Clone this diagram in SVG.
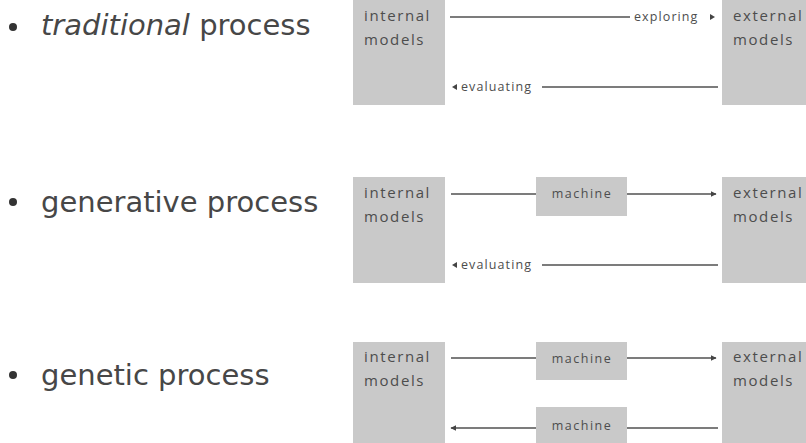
<svg xmlns="http://www.w3.org/2000/svg" width="806" height="443" viewBox="0 0 806 443">
  <style>
    .title { font-family: "DejaVu Sans", Verdana, sans-serif; font-size: 29px; fill: #474747; }
    .box { fill: #c9c9c9; }
    .lbl { font-family: "Open Sans", "DejaVu Sans", sans-serif; font-size: 15px; letter-spacing: 1.6px; fill: #4d4d4d; }
    .mlbl { font-family: "Open Sans", "DejaVu Sans", sans-serif; font-size: 12.5px; letter-spacing: 1.5px; fill: #4d4d4d; text-anchor: middle; }
    .elbl { font-family: "Open Sans", "DejaVu Sans", sans-serif; font-size: 12.5px; letter-spacing: 1.1px; fill: #4d4d4d; }
    .wire { stroke: #505050; stroke-width: 1.5; fill: none; }
    .bullet { fill: #333; }
  </style>
  <defs>
    <marker id="tip" viewBox="0 0 10 10" refX="9" refY="5" markerWidth="4" markerHeight="4" orient="auto">
      <path d="M0,0 L10,5 L0,10 z" fill="#444"/>
    </marker>
  </defs>

  <rect width="806" height="443" fill="#ffffff"/>

  <!-- process titles -->
  <g id="titles">
    <circle class="bullet" cx="13" cy="27" r="4"/>
    <text class="title" x="41" y="35"><tspan font-style="italic">traditional</tspan> process</text>
    <circle class="bullet" cx="13" cy="202" r="4"/>
    <text class="title" x="41" y="212">generative process</text>
    <circle class="bullet" cx="13" cy="375" r="4"/>
    <text class="title" x="41" y="385">genetic process</text>
  </g>

  <!-- traditional process -->
  <g id="trad-internal">
    <rect class="box" x="353" y="0" width="92" height="105"/>
    <text class="lbl" x="364" y="21">internal</text>
    <text class="lbl" x="364" y="45">models</text>
  </g>
  <g id="trad-external">
    <rect class="box" x="722" y="0" width="90" height="105"/>
    <text class="lbl" x="733" y="21">external</text>
    <text class="lbl" x="733" y="45">models</text>
  </g>

  <!-- generative process -->
  <g id="gen-internal">
    <rect class="box" x="353" y="177" width="92" height="106"/>
    <text class="lbl" x="364" y="198">internal</text>
    <text class="lbl" x="364" y="222">models</text>
  </g>
  <g id="gen-machine">
    <rect class="box" x="536" y="177" width="91" height="39"/>
    <text class="mlbl" x="582" y="198">machine</text>
  </g>
  <g id="gen-external">
    <rect class="box" x="722" y="177" width="90" height="106"/>
    <text class="lbl" x="733" y="198">external</text>
    <text class="lbl" x="733" y="222">models</text>
  </g>

  <!-- genetic process -->
  <g id="genetic-internal">
    <rect class="box" x="353" y="342" width="92" height="110"/>
    <text class="lbl" x="364" y="362">internal</text>
    <text class="lbl" x="364" y="386">models</text>
  </g>
  <g id="genetic-machine-out">
    <rect class="box" x="536" y="342" width="91" height="38"/>
    <text class="mlbl" x="582" y="363">machine</text>
  </g>
  <g id="genetic-machine-back">
    <rect class="box" x="536" y="407" width="91" height="40"/>
    <text class="mlbl" x="582" y="430">machine</text>
  </g>
  <g id="genetic-external">
    <rect class="box" x="722" y="342" width="90" height="110"/>
    <text class="lbl" x="733" y="362">external</text>
    <text class="lbl" x="733" y="386">models</text>
  </g>

  <!-- connectors -->
  <g id="connectors">
    <!-- traditional -->
    <line class="wire" x1="450" y1="17" x2="630" y2="17"/>
    <text class="elbl" x="634" y="21">exploring</text>
    <path d="M710,14 L715,17 L710,20 z" fill="#444"/>
    <path d="M457,84 L452,87 L457,90 z" fill="#444"/>
    <text class="elbl" x="461" y="91">evaluating</text>
    <line class="wire" x1="542" y1="87" x2="718" y2="87"/>

    <!-- generative -->
    <line class="wire" x1="451" y1="194" x2="536" y2="194"/>
    <line class="wire" x1="627" y1="194" x2="716" y2="194" marker-end="url(#tip)"/>
    <path d="M457,262 L452,265 L457,268 z" fill="#444"/>
    <text class="elbl" x="461" y="269">evaluating</text>
    <line class="wire" x1="542" y1="265" x2="718" y2="265"/>

    <!-- genetic -->
    <line class="wire" x1="451" y1="358" x2="536" y2="358"/>
    <line class="wire" x1="627" y1="358" x2="716" y2="358" marker-end="url(#tip)"/>
    <line class="wire" x1="536" y1="428" x2="451" y2="428" marker-end="url(#tip)"/>
    <line class="wire" x1="627" y1="428" x2="718" y2="428"/>
  </g>
</svg>
